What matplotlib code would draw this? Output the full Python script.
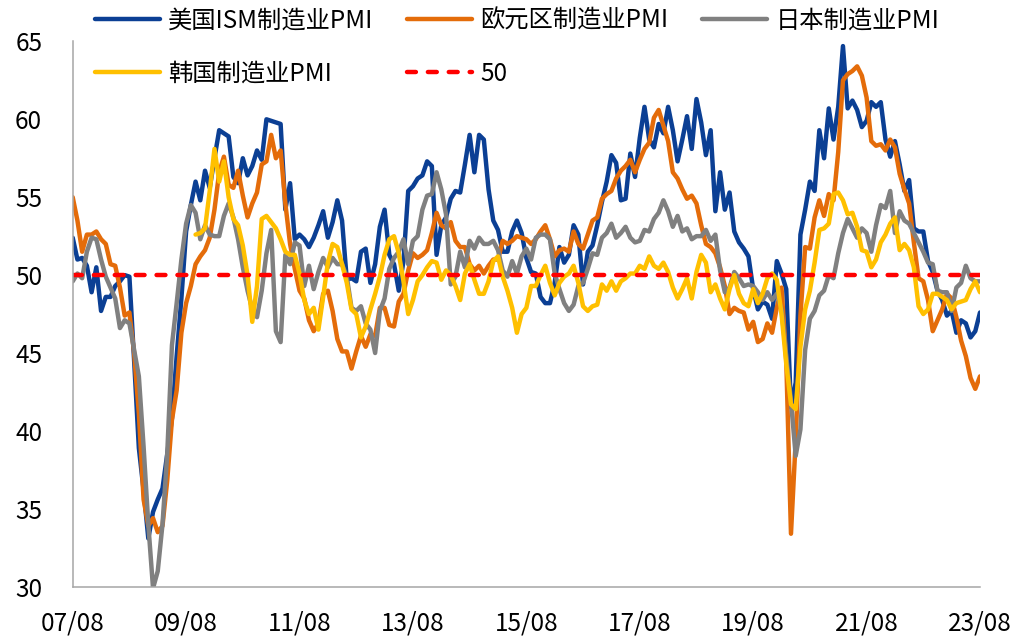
import numpy as np
import matplotlib
matplotlib.use("Agg")
import matplotlib.pyplot as plt

plt.rcParams['font.family'] = ['Noto Sans CJK SC', 'DejaVu Sans']

# Monthly data, 2007/08 .. 2023/08
tick_labels = ["07/08", "09/08", "11/08", "13/08", "15/08", "17/08", "19/08", "21/08", "23/08"]
y_ticks = [30, 35, 40, 45, 50, 55, 60, 65]

us_ism = [
    52.4, 51.0, 51.1, 50.6, 48.9,
    50.5, 47.7, 48.6, 48.6, 49.3, 49.6, 50.0, 49.9, 44.5, 38.9, 36.2, 33.1,
    34.8, 35.6, 36.3, 38.5, 40.8, 44.8, 48.5, 52.8, 54.5, 56.0, 54.8, 56.7,
    55.6, 57.5, 59.3, 59.1, 58.9, 56.3, 55.9, 57.5, 56.4, 57.0, 58.0, 57.4,
    60.0, 59.9, 59.8, 59.7, 54.2, 55.9, 52.3, 52.6, 52.3, 51.8, 52.4, 53.2,
    54.1, 52.4, 53.4, 54.8, 53.5, 49.7, 49.8, 49.6, 51.5, 51.7, 49.5, 50.7,
    53.1, 54.2, 51.3, 50.7, 49.0, 50.9, 55.4, 55.7, 56.2, 56.4, 57.3, 57.0,
    51.3, 53.2, 53.7, 54.9, 55.4, 55.3, 57.1, 59.0, 56.6, 59.0, 58.7, 55.5,
    53.5, 52.9, 51.5, 51.5, 52.8, 53.5, 52.7, 51.1, 50.2, 50.1, 48.6, 48.2,
    48.2, 49.5, 51.8, 50.8, 51.3, 53.2, 52.6, 49.4, 51.5, 51.9, 53.2, 54.7,
    56.0, 57.7, 57.2, 54.8, 54.9, 57.8, 56.3, 58.8, 60.8, 58.7, 58.2, 59.7,
    59.1, 60.8, 59.3, 57.3, 58.7, 60.2, 58.1, 61.3, 59.8, 57.7, 59.3, 54.1,
    56.6, 54.2, 55.3, 52.8, 52.1, 51.7, 51.2, 49.1, 47.8, 48.3, 48.1, 47.2,
    50.9, 50.1, 49.1, 41.5, 43.1, 52.6, 54.2, 56.0, 55.4, 59.3, 57.5, 60.7,
    58.7, 60.8, 64.7, 60.7, 61.2, 60.6, 59.5, 59.9, 61.1, 60.8, 61.1, 58.7,
    57.6, 58.6, 57.1, 55.4, 56.1, 53.0, 52.8, 52.8, 50.9, 50.2, 49.0, 48.4,
    47.4, 47.7, 46.3, 47.1, 46.9, 46.0, 46.4, 47.6,
]

euro_pmi = [
    55.0, 53.5, 51.5, 52.6, 52.6,
    52.8, 52.3, 52.0, 50.7, 50.6, 49.2, 47.4, 47.6, 45.0, 41.1, 35.6, 33.9,
    34.4, 33.5, 33.9, 36.8, 40.7, 42.6, 46.3, 48.2, 49.3, 50.7, 51.2, 51.6,
    52.4, 54.2, 56.6, 57.6, 55.8, 55.6, 56.7, 55.1, 53.7, 54.6, 55.3, 57.1,
    57.3, 59.0, 57.5, 58.0, 54.6, 52.0, 50.4, 49.0, 48.5, 47.1, 46.4, 46.9,
    48.8, 49.0, 47.7, 45.9, 45.1, 45.1, 44.0, 45.1, 46.1, 45.4, 46.2, 46.1,
    47.9, 47.9, 46.8, 46.7, 48.3, 48.8, 50.3, 51.4, 51.1, 51.3, 51.6, 52.7,
    54.0, 53.2, 53.0, 53.4, 52.2, 51.8, 51.8, 50.7, 50.3, 50.6, 50.1, 50.6,
    51.0, 51.0, 52.2, 52.0, 52.2, 52.5, 52.4, 52.3, 52.0, 52.3, 52.8, 53.2,
    52.3, 51.2, 51.6, 51.7, 51.5, 52.8, 52.0, 51.7, 52.6, 53.5, 53.7, 54.9,
    55.2, 55.4, 56.2, 56.7, 57.0, 57.4, 56.6, 57.4, 58.1, 58.5, 60.1, 60.6,
    59.6, 58.6, 56.6, 56.2, 55.5, 54.9, 55.1, 54.6, 53.2, 52.0, 51.8, 51.4,
    50.5, 49.3, 47.5, 47.9, 47.7, 47.6, 46.5, 47.0, 45.7, 45.9, 46.9, 46.3,
    47.9, 49.2, 44.5, 33.4, 39.4, 47.4, 51.8, 51.7, 53.7, 54.8, 53.8, 55.2,
    54.8, 57.9, 62.5, 62.9, 63.1, 63.4, 62.8, 61.4, 58.6, 58.3, 58.4, 58.0,
    58.7, 58.2, 56.5, 55.5, 54.6, 52.1, 49.8, 49.6, 48.4, 46.4, 47.1, 47.8,
    48.8, 48.5, 47.3, 45.8, 44.8, 43.4, 42.7, 43.5,
]

japan_pmi = [
    49.6, 50.1, 49.8, 51.5, 52.4,
    52.3, 51.0, 49.9, 49.2, 48.5, 46.6, 47.1, 46.9, 45.2, 43.5, 39.0, 34.0,
    29.9, 31.0, 34.0, 38.5, 45.5, 48.2, 51.0, 53.3, 54.5, 54.0, 52.3, 53.2,
    52.6, 52.5, 52.5, 53.8, 54.6, 53.7, 52.3, 50.5, 49.0, 47.8, 47.3, 49.0,
    51.4, 52.9, 46.4, 45.7, 51.3, 50.7, 52.1, 51.9, 49.3, 50.6, 49.1, 50.2,
    51.1, 50.5, 51.1, 50.7, 50.7, 49.9, 47.9, 47.7, 48.0, 46.9, 46.5, 45.0,
    47.7, 48.5, 50.4, 51.1, 51.5, 52.3, 50.7, 52.2, 52.5, 54.2, 55.1, 55.2,
    56.6, 55.5, 53.9, 49.4, 49.9, 51.5, 50.5, 52.2, 51.7, 52.4, 52.0, 52.0,
    52.2, 51.6, 50.3, 49.9, 50.9, 50.1, 51.2, 51.7, 51.0, 52.4, 52.6, 52.6,
    52.3, 50.1, 49.1, 48.2, 47.7, 48.1, 49.3, 49.5, 50.4, 51.4, 51.3, 52.4,
    52.7, 53.3, 52.4, 52.7, 53.1, 52.4, 52.1, 52.2, 52.9, 52.8, 53.6, 54.0,
    54.8, 54.1, 53.1, 53.8, 52.8, 53.0, 52.3, 52.5, 52.5, 52.9, 52.2, 52.6,
    50.3, 48.9, 49.2, 50.2, 49.8, 49.3, 49.4, 49.3, 48.9, 48.4, 48.9, 48.4,
    48.8, 47.8, 44.8, 41.9, 38.4, 40.1, 45.2, 47.2, 47.7, 48.7, 49.0, 50.0,
    49.8, 51.4, 52.7, 53.6, 53.0, 52.4, 53.0, 52.7, 51.5, 53.2, 54.5, 54.3,
    55.4, 52.7, 54.1, 53.5, 53.3, 52.7, 52.1, 51.5, 50.8, 50.7, 49.0, 48.9,
    48.9, 47.7, 49.2, 49.5, 50.6, 49.8, 49.6, 49.6,
]

korea_pmi = [None] * 26 + [
    52.6, 52.7, 53.0,
    55.4, 58.1, 56.0, 57.3, 55.0, 53.6, 53.2, 51.9, 50.0, 47.0, 49.3, 53.6,
    53.8, 53.4, 53.0, 52.3, 51.5, 51.3, 51.3, 50.1, 48.4, 47.5, 47.9, 46.5,
    48.6, 50.8, 52.0, 51.8, 50.7, 49.5, 47.8, 47.5, 46.0, 46.7, 47.8, 48.8,
    49.9, 51.3, 52.3, 52.5, 51.4, 49.6, 47.5, 48.4, 49.6, 50.0, 50.5, 50.9,
    50.8, 49.7, 50.3, 50.0, 49.3, 48.4, 50.1, 50.7, 49.7, 48.8, 48.8, 49.6,
    50.9, 51.2, 49.9, 49.0, 47.9, 46.3, 47.5, 47.9, 49.3, 49.3, 50.0, 50.6,
    49.5, 48.7, 49.5, 49.9, 50.1, 50.6, 49.5, 48.0, 47.7, 48.0, 48.1, 49.4,
    49.0, 49.6, 49.0, 49.6, 49.8, 50.1, 50.1, 50.6, 50.4, 51.2, 50.6, 50.4,
    50.8, 50.2, 49.2, 48.5, 49.1, 49.8, 48.5, 50.2, 51.3, 50.8, 48.9, 49.4,
    48.5, 47.8, 49.1, 50.0, 48.8, 48.2, 48.0, 49.1, 48.2, 48.8, 49.8, 50.1,
    49.7, 47.5, 44.3, 41.7, 41.4, 45.4, 47.8, 49.0, 50.8, 52.9, 53.0, 53.3,
    55.2, 55.3, 54.8, 53.9, 54.0, 53.1, 51.6, 51.5, 50.5, 51.0, 52.1, 52.6,
    53.3, 53.7, 51.6, 52.0, 51.6, 50.5, 48.0, 47.5, 47.8, 48.8, 48.8, 48.6,
    48.4, 47.8, 48.2, 48.3, 48.4, 49.1, 49.6, 48.9,
]

threshold = 50

n = len(us_ism)
x = np.arange(n)
korea = np.array([np.nan if v is None else v for v in korea_pmi], dtype=float)

W, H = 1015, 636
fig = plt.figure(figsize=(W / 100, H / 100), dpi=100)
ax = fig.add_axes([72.7 / W, 1 - 586.7 / H, (980 - 72.7) / W, (586.7 - 41.4) / H])

lw = 3.2
c_us, c_eu, c_jp, c_kr, c_50 = "#0B3F94", "#E46C0A", "#808080", "#FFC000", "#FF0000"
kw = dict(lw=lw, solid_joinstyle="round", solid_capstyle="round")
l1, = ax.plot(x, us_ism, color=c_us, **kw)
l2, = ax.plot(x, euro_pmi, color=c_eu, **kw)
l3, = ax.plot(x, japan_pmi, color=c_jp, **kw)
l4, = ax.plot(x, korea, color=c_kr, **kw)
l5, = ax.plot([x[0], x[-1]], [threshold, threshold], color=c_50, lw=3.2,
              dashes=(2.0, 2.7), dash_capstyle="round")

ax.set_xlim(0, n - 1)
ax.set_ylim(30, 65)
ax.set_yticks(y_ticks)
ax.set_xticks(np.arange(0, n, 24))
ax.set_xticklabels(tick_labels)
for s in ["top", "right"]:
    ax.spines[s].set_visible(False)
for s in ["left", "bottom"]:
    ax.spines[s].set_color("#A6A6A6")
    ax.spines[s].set_linewidth(1.1)
ax.tick_params(axis="y", length=0, pad=22, labelsize=17.5, colors="black")
ax.tick_params(axis="x", length=0, pad=17, labelsize=17.5, colors="black")

handles = [l1, l4, l2, l5, l3]
labels = ["美国ISM制造业PMI", "韩国制造业PMI", "欧元区制造业PMI", "50", "日本制造业PMI"]
fig.legend(handles, labels, loc="upper left", bbox_to_anchor=(95 / W, 0.988),
           ncol=3, frameon=False, fontsize=17.5, borderpad=0, borderaxespad=0,
           handlelength=2.67, handletextpad=0.33, columnspacing=1.4, labelspacing=1.12)

fig.savefig("out.png", dpi=100)
